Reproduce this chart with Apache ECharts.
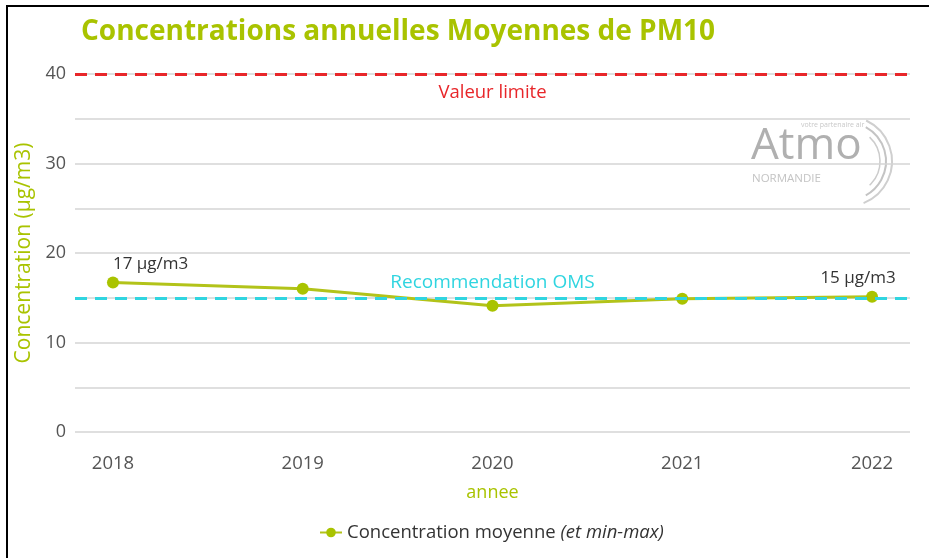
<!DOCTYPE html>
<html>
<head>
<meta charset="utf-8">
<script src="https://cdn.jsdelivr.net/npm/echarts@6/dist/echarts.min.js"></script>
<style>
  html, body { margin: 0; padding: 0; background: #fff; }
  #chart { width: 929px; height: 558px; }
</style>
</head>
<body>
<div id="chart"></div>
<script>
// Annual mean PM10 concentrations (µg/m3)
const years = [2018, 2019, 2020, 2021, 2022];
const meanValues = [16.7, 16.0, 14.1, 14.9, 15.1];
const labelledYears = [2018, 2022];
const yTicks = [0, 10, 20, 30, 40];
const limitValue = 40;       // Valeur limite
const whoValue = 15;         // Recommendation OMS

const green = '#a9c300';
const font = '"Open Sans", "Noto Sans", sans-serif';

const seriesData = years.map((y, i) => {
  const item = { value: [y, meanValues[i]] };
  if (labelledYears.includes(y)) {
    const first = i === 0;
    item.label = {
      show: true,
      position: 'top',
      align: first ? 'left' : 'center',
      offset: first ? [0, 1] : [-14, 1]
    };
  }
  return item;
});

const chart = echarts.init(document.getElementById('chart'));
chart.setOption({
  animation: false,
  textStyle: { fontFamily: font },
  title: {
    text: 'Concentrations annuelles Moyennes de PM10',
    left: 76, top: 13,
    textStyle: { color: green, fontSize: 28, fontWeight: 'bold', fontFamily: font }
  },
  grid: { left: 75, right: 19, top: 74, bottom: 126 },
  legend: {
    bottom: 11, left: 314,
    itemWidth: 22, itemHeight: 12,
    data: [{ name: 'Concentration moyenne' }],
    formatter: () => 'Concentration moyenne {i|(et min-max)}',
    textStyle: {
      color: '#333', fontSize: 18.5, fontFamily: font,
      rich: { i: { fontStyle: 'italic', fontSize: 18.5, color: '#333', fontFamily: font } }
    }
  },
  xAxis: {
    type: 'value',
    min: 2017.8, max: 2022.2,
    name: 'annee',
    nameLocation: 'middle',
    nameGap: 52,
    nameTextStyle: { color: green, fontSize: 18 },
    axisLine: { show: false },
    axisTick: { show: false },
    splitLine: { show: false },
    axisLabel: {
      customValues: years,
      color: '#555', fontSize: 18.5, margin: 22,
      formatter: v => String(v)
    }
  },
  yAxis: {
    type: 'value',
    min: 0, max: 40, interval: 5,
    name: 'Concentration (µg/m3)',
    nameLocation: 'middle',
    nameGap: 37,
    nameTextStyle: { color: green, fontSize: 21 },
    axisLine: { show: false },
    axisTick: { show: false },
    axisLabel: {
      customValues: yTicks,
      color: '#555', fontSize: 18, margin: 9
    },
    splitLine: { lineStyle: { color: '#d4d4d4', width: 1.5 } }
  },
  series: [{
    name: 'Concentration moyenne',
    type: 'line',
    data: seriesData,
    symbol: 'circle',
    symbolSize: 12,
    itemStyle: { color: green },
    lineStyle: { color: '#b2c31a', width: 3 },
    label: { color: '#333', fontSize: 17, formatter: p => Math.round(p.value[1]) + ' µg/m3' },
    markLine: {
      silent: true,
      symbol: 'none',
      data: [
        {
          yAxis: limitValue,
          lineStyle: { color: '#e8262a', type: [12, 8], width: 3 },
          label: { formatter: 'Valeur limite', position: 'insideMiddleBottom', color: '#e8262a', fontSize: 18.5, distance: 9 }
        },
        {
          yAxis: whoValue,
          lineStyle: { color: '#30d5e0', type: [12, 8], width: 3 },
          label: { formatter: 'Recommendation OMS', position: 'insideMiddleTop', color: '#30d5e0', fontSize: 19, distance: 6 }
        }
      ]
    }
  }],
  graphic: [
    // frame
    { type: 'line', shape: { x1: 6, y1: 6, x2: 929, y2: 6 }, style: { stroke: '#000', lineWidth: 2 } },
    { type: 'line', shape: { x1: 7, y1: 6, x2: 7, y2: 558 }, style: { stroke: '#000', lineWidth: 2 } },
    // Atmo Normandie logo
    {
      type: 'group', left: 751, top: 118, silent: true,
      children: [
        { type: 'text', x: 50, y: 4, style: { text: 'votre partenaire air', fill: '#c8c8c8', font: '7px ' + font } },
        { type: 'text', x: 0, y: 7, style: { text: 'Atmo', fill: '#b0b0b0', font: '44px ' + font } },
        { type: 'text', x: 1, y: 56, style: { text: 'NORMANDIE', fill: '#c4c4c4', font: '11.5px ' + font } },
        { type: 'arc', shape: { cx: 96, cy: 44, r: 45, startAngle: -Math.PI * 0.36, endAngle: Math.PI * 0.38 }, style: { stroke: '#cfcfcf', lineWidth: 2, fill: null } },
        { type: 'arc', shape: { cx: 96, cy: 44, r: 39, startAngle: -Math.PI * 0.34, endAngle: Math.PI * 0.34 }, style: { stroke: '#c4c4c4', lineWidth: 2, fill: null } },
        { type: 'arc', shape: { cx: 96, cy: 44, r: 33, startAngle: -Math.PI * 0.26, endAngle: Math.PI * 0.26 }, style: { stroke: '#cccccc', lineWidth: 1.5, fill: null } }
      ]
    }
  ]
});
</script>
</body>
</html>
